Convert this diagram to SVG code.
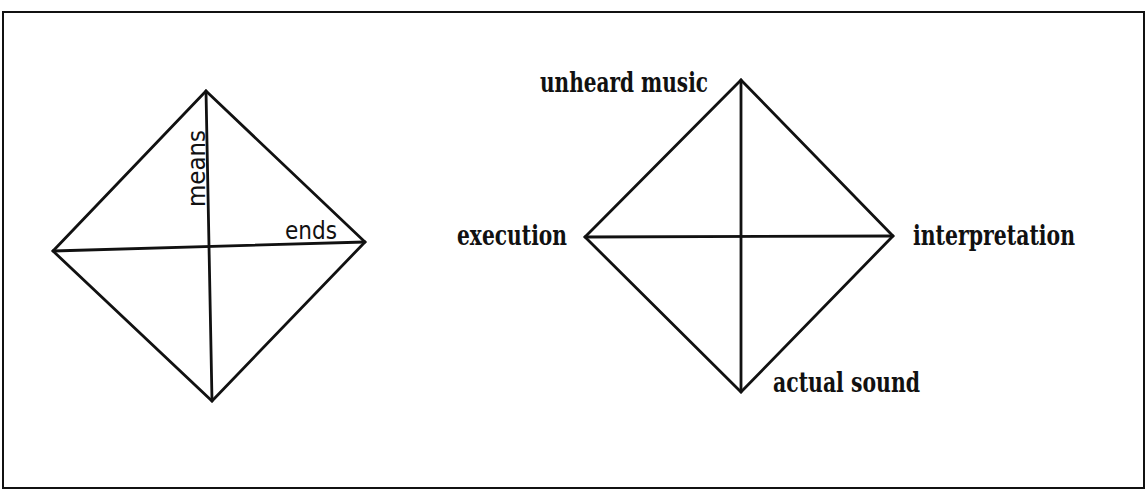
<svg xmlns="http://www.w3.org/2000/svg" width="1145" height="492" viewBox="0 0 1145 492">
  <style>
    .frame { fill: none; stroke: #111; stroke-width: 2; }
    .edge { fill: none; stroke: #111; stroke-width: 2.8; stroke-linejoin: miter; stroke-linecap: round; }
    .hand { font-family: "DejaVu Sans", sans-serif; font-size: 24px; fill: #111; }
    .label { font-family: "DejaVu Serif", "Liberation Serif", serif; font-weight: bold; font-size: 27px; fill: #111; }
  </style>
  <rect width="1145" height="492" fill="#fff"/>
  <rect class="frame" x="3" y="12" width="1141" height="476"/>

  <!-- left diamond: means / ends axes -->
  <g id="diamond-left">
    <path class="edge" d="M206,91 L365,242 L212,401 L53,251 Z"/>
    <line class="edge" x1="206" y1="91" x2="212" y2="401"/>
    <line class="edge" x1="53" y1="251" x2="365" y2="242"/>
    <text class="hand" transform="translate(205,207) rotate(-90)" textLength="77" lengthAdjust="spacingAndGlyphs">means</text>
    <text class="hand" x="285" y="239" textLength="52" lengthAdjust="spacingAndGlyphs">ends</text>
  </g>

  <!-- right diamond: music poles -->
  <g id="diamond-right">
    <path class="edge" d="M741,80 L893,236 L741,392 L585,237 Z"/>
    <line class="edge" x1="741" y1="80" x2="741" y2="392"/>
    <line class="edge" x1="585" y1="237" x2="893" y2="236"/>
  </g>
  <g id="node-unheard">
    <text class="label" x="540" y="92" textLength="168" lengthAdjust="spacingAndGlyphs">unheard music</text>
  </g>
  <g id="node-execution">
    <text class="label" x="457" y="245" textLength="110" lengthAdjust="spacingAndGlyphs">execution</text>
  </g>
  <g id="node-interpretation">
    <text class="label" x="913" y="245" textLength="162" lengthAdjust="spacingAndGlyphs">interpretation</text>
  </g>
  <g id="node-actual">
    <text class="label" x="773" y="392" textLength="147" lengthAdjust="spacingAndGlyphs">actual sound</text>
  </g>
</svg>
